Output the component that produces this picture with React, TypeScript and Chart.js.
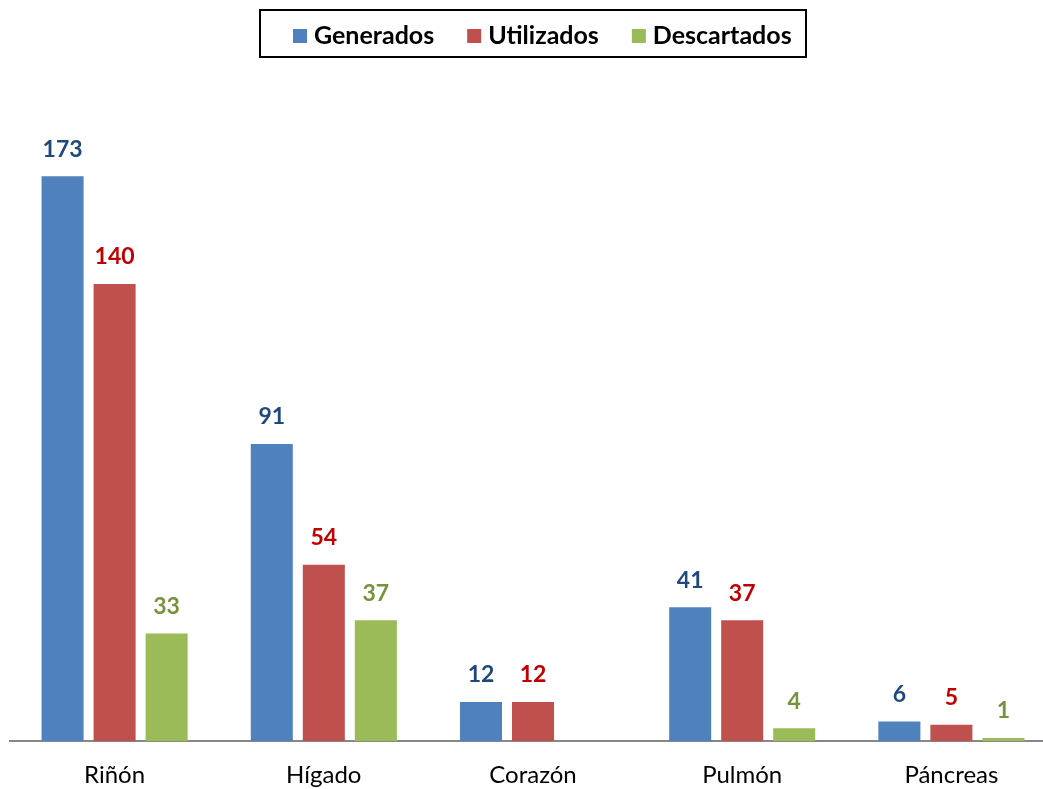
import React, { useEffect, useRef } from "react";
import { Chart, registerables } from "chart.js";

Chart.register(...registerables);

const categories = ["Riñón", "Hígado", "Corazón", "Pulmón", "Páncreas"];
const generados = [173, 91, 12, 41, 6];
const utilizados = [140, 54, 12, 37, 5];
const descartados = [33, 37, 0, 4, 1];

const seriesNames = ["Generados", "Utilizados", "Descartados"];
const barColors = ["#4F81BD", "#C0504D", "#9BBB59"];
const labelColors = ["#1F497D", "#C00000", "#77933C"];

const FONT = "Lato, 'Open Sans', sans-serif";

const labelPlugin = {
  id: "valueLabels",
  afterDatasetsDraw(chart: any) {
    const ctx = chart.ctx;
    ctx.save();
    ctx.font = `bold 23px ${FONT}`;
    ctx.textAlign = "center";
    ctx.textBaseline = "middle";
    chart.data.datasets.forEach((ds: any, i: number) => {
      const meta = chart.getDatasetMeta(i);
      meta.data.forEach((bar: any, j: number) => {
        const v = ds.data[j];
        if (!v) return;
        ctx.fillStyle = labelColors[i];
        ctx.fillText(String(v), bar.x, bar.y - 27);
      });
    });
    ctx.restore();
  },
};

const legendPlugin = {
  id: "boxLegend",
  afterDraw(chart: any) {
    const ctx = chart.ctx;
    const { left, right } = chart.chartArea;
    const cx = (left + right) / 2;
    ctx.save();
    ctx.font = `bold 25px ${FONT}`;
    const sq = 14;
    const gapText = 7;
    const gapItem = 33;
    const widths = seriesNames.map((n) => sq + gapText + ctx.measureText(n).width);
    const boxW = 546;
    const boxX = cx - boxW / 2;
    const boxY = 10;
    const boxH = 47;
    ctx.lineWidth = 2;
    ctx.strokeStyle = "#000";
    ctx.strokeRect(boxX, boxY, boxW, boxH);
    let x = boxX + 33;
    const baseY = 44;
    ctx.textBaseline = "alphabetic";
    ctx.textAlign = "left";
    seriesNames.forEach((n, i) => {
      ctx.fillStyle = barColors[i];
      ctx.fillRect(x, baseY - sq - 1, sq, sq);
      ctx.fillStyle = "#000";
      ctx.fillText(n, x + sq + gapText, baseY);
      x += widths[i] + gapItem;
    });
    ctx.restore();
  },
};

export default function App() {
  const ref = useRef<HTMLCanvasElement>(null);
  useEffect(() => {
    if (!ref.current) return;
    const chart = new Chart(ref.current, {
      type: "bar",
      data: {
        labels: categories,
        datasets: [generados, utilizados, descartados].map((d, i) => ({
          label: seriesNames[i],
          data: d,
          backgroundColor: barColors[i],
          borderWidth: 0,
          categoryPercentage: 0.746,
          barPercentage: 0.808,
        })),
      },
      options: {
        animation: false,
        responsive: false,
        maintainAspectRatio: false,
        layout: { padding: { top: 88, left: 10, right: 10, bottom: 0 } },
        plugins: {
          legend: { display: false },
          tooltip: { enabled: false },
        },
        scales: {
          x: {
            grid: { display: false, drawTicks: false },
            border: { display: true, color: "#888888", width: 2 },
            ticks: {
              color: "#000",
              font: { family: FONT, size: 24 },
              padding: 20,
            },
          },
          y: {
            display: false,
            min: 0,
            max: 200,
          },
        },
      },
      plugins: [labelPlugin, legendPlugin],
    });
    return () => chart.destroy();
  }, []);
  return (
    <div
      style={{
        position: "fixed",
        left: 0,
        top: 0,
        width: 1043,
        height: 789,
        overflow: "hidden",
        background: "#fff",
      }}
    >
      <canvas ref={ref} width={1066} height={810} style={{ display: "block" }} />
    </div>
  );
}
